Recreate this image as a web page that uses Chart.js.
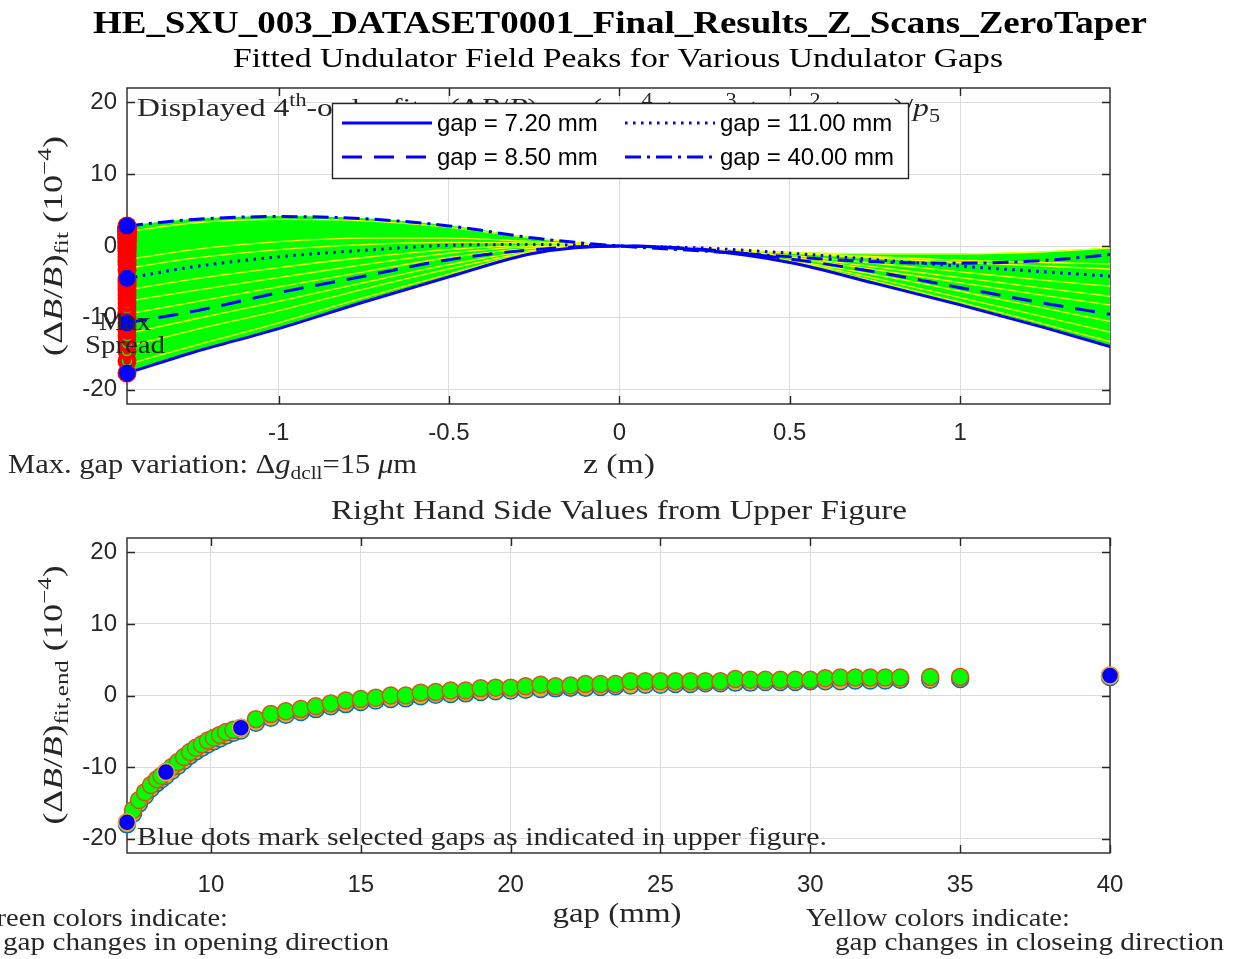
<!DOCTYPE html>
<html>
<head>
<meta charset="utf-8">
<script src="https://cdn.jsdelivr.net/npm/chart.js@4.4.1/dist/chart.umd.min.js"></script>
<style>
html, body { margin: 0; padding: 0; background: #fff; }
#wrap { position: relative; width: 1243px; height: 959px; overflow: hidden; }
canvas { position: absolute; left: 0; }
</style>
</head>
<body>
<div id="wrap">
  <canvas id="topChart" width="1243" height="490" style="top:0"></canvas>
  <canvas id="bottomChart" width="1243" height="469" style="top:490px"></canvas>
</div>
<script>
// ---- data ----
var zPts = [-1.445, -1.25, -1.0, -0.75, -0.5, -0.25, 0, 0.25, 0.5, 0.75, 1.0, 1.25, 1.44];
var zTicks = [-1, -0.5, 0, 0.5, 1];
var fieldTicks = [-20, -10, 0, 10, 20];
var gapTicks = [10, 15, 20, 25, 30, 35, 40];

// highlighted fits (blue) in the upper plot
var selGaps = [7.2, 8.5, 11.0, 40.0];
var fit072 = [-17.7, -14.8, -11.5, -7.8, -4.3, -1.0, 0.0, -0.6, -2.3, -5.2, -8.2, -11.4, -14.0];
var fit085 = [-10.7, -9.1, -6.5, -4.2, -1.9, -0.5, 0.0, -0.5, -1.8, -3.6, -5.8, -8.0, -9.5];
var fit110 = [-4.5, -2.9, -1.5, -0.6, 0.1, 0.2, 0.0, -0.3, -1.0, -1.9, -2.8, -3.6, -4.2];
var fit400 = [2.8, 3.7, 4.1, 3.8, 2.8, 1.1, 0.0, -0.7, -1.5, -2.2, -2.4, -2.0, -1.2];

// some of the closing-direction fits (yellow)
var closeGaps = [7.4, 7.8, 8.2, 9.0, 9.6, 10.3, 12.0, 13.5, 30.0];
var closeFits = [
  [-16.5, -13.9, -10.7, -7.2, -3.9, -0.9, 0.0, -0.6, -2.2, -4.9, -7.8, -10.9, -13.3],
  [-14.0, -11.7, -9.0, -6.0, -3.2, -0.8, 0.0, -0.6, -2.1, -4.5, -7.2, -9.9, -12.0],
  [-12.2, -10.2, -7.7, -5.1, -2.6, -0.6, 0.0, -0.5, -2.0, -4.0, -6.3, -8.7, -10.5],
  [-9.5, -7.8, -5.7, -3.6, -1.6, -0.3, 0.0, -0.5, -1.7, -3.3, -5.1, -6.9, -8.2],
  [-7.7, -6.2, -4.4, -2.6, -1.0, -0.1, 0.0, -0.4, -1.5, -2.9, -4.4, -5.9, -7.0],
  [-6.1, -4.6, -3.0, -1.6, -0.5, 0.1, 0.0, -0.4, -1.3, -2.4, -3.6, -4.8, -5.6],
  [-3.1, -1.7, -0.5, 0.2, 0.5, 0.4, 0.0, -0.4, -1.0, -1.7, -2.3, -2.8, -3.2],
  [-1.9, -0.5, 0.6, 1.1, 1.1, 0.6, 0.0, -0.4, -0.9, -1.5, -2.0, -2.3, -2.5],
  [2.0, 3.2, 3.7, 3.5, 2.6, 1.1, 0.0, -0.4, -0.9, -1.1, -1.1, -0.8, -0.3]
];

// end values vs gap (lower plot, also the left end of the upper plot)
var gaps = [7.2, 7.4, 7.6, 7.8, 8.0, 8.2, 8.35, 8.5, 8.7, 8.9, 9.1, 9.3, 9.5, 9.7, 9.9, 10.1, 10.3, 10.5, 10.75, 11.0,
  11.5, 12, 12.5, 13, 13.5, 14, 14.5, 15, 15.5, 16, 16.5, 17, 17.5, 18, 18.5, 19, 19.5, 20, 20.5, 21, 21.5, 22,
  22.5, 23, 23.5, 24, 24.5, 25, 25.5, 26, 26.5, 27, 27.5, 28, 28.5, 29, 29.5, 30, 30.5, 31, 31.5, 32, 32.5, 33,
  34, 35, 40];
var endOpen = [-17.7, -16.0, -14.6, -13.5, -12.5, -11.7, -11.2, -10.7, -10.0, -9.3, -8.6, -7.9, -7.3, -6.8, -6.3, -5.9, -5.5, -5.1, -4.8, -4.5,
  -3.3, -2.6, -2.2, -1.9, -1.5, -1.1, -0.7, -0.5, -0.3, 0.0, 0.0, 0.4, 0.5, 0.7, 0.7, 1.0, 1.1, 1.1, 1.3, 1.5, 1.3, 1.4,
  1.6, 1.6, 1.6, 2.0, 2.0, 2.0, 2.0, 2.0, 2.0, 2.0, 2.3, 2.2, 2.2, 2.2, 2.2, 2.2, 2.4, 2.5, 2.5, 2.5, 2.5, 2.5,
  2.6, 2.6, 2.8];
var endClose = [-18.0, -16.5, -15.1, -14.0, -13.0, -12.2, -11.7, -11.2, -10.5, -9.8, -9.1, -8.4, -7.8, -7.3, -6.8, -6.4, -6.0, -5.6, -5.2, -4.9,
  -3.8, -3.1, -2.7, -2.3, -1.9, -1.5, -1.2, -0.9, -0.7, -0.5, -0.4, -0.1, 0.1, 0.2, 0.3, 0.5, 0.6, 0.7, 0.8, 0.9, 1.0, 1.1,
  1.1, 1.2, 1.3, 1.4, 1.5, 1.5, 1.6, 1.6, 1.7, 1.7, 1.8, 1.8, 1.9, 1.9, 1.9, 2.0, 2.0, 2.0, 2.1, 2.1, 2.1, 2.2,
  2.2, 2.3, 2.6];

// ---- styling ----
var SERIF = '"Liberation Serif", "Times New Roman", serif';
var SANS = '"Liberation Sans", Arial, sans-serif';
var INK = '#262626';
var GRID = '#dcdcdc';
var BLUE = '#0000FF', GREEN = '#00FF00', YELLOW = '#FFFF00';
var selFits = [fit072, fit085, fit110, fit400];
var selDashes = [[], [20, 12], [2.5, 5.5], [16, 6, 3, 6]];

function pts(vals) {
  return zPts.map(function (z, i) { return { x: z, y: vals[i] }; });
}

function fontFor(kind, size) {
  var small = kind === 'sub' || kind === 'sup';
  var s = small ? size * 0.7 : size;
  var it = kind === 'i' ? 'italic ' : '';
  var b = kind === 'b' ? 'bold ' : '';
  return it + b + s + 'px ' + SERIF;
}

// draws a run of text pieces (normal, italic, sub, sup), optionally stretched to a width
function richText(ctx, segs, x, y, size, o) {
  o = o || {};
  ctx.save();
  var w = 0;
  var ws = segs.map(function (s) {
    ctx.font = fontFor(s[1] || 'n', size);
    var m = ctx.measureText(s[0]).width;
    w += m;
    return m;
  });
  ctx.translate(x, y);
  if (o.rotate) ctx.rotate(-Math.PI / 2);
  if (o.width) ctx.scale(o.width / w, 1);
  var cx = o.align === 'center' ? -w / 2 : (o.align === 'right' ? -w : 0);
  ctx.fillStyle = o.color || INK;
  ctx.textBaseline = 'alphabetic';
  ctx.textAlign = 'left';
  segs.forEach(function (s, i) {
    var k = s[1] || 'n';
    ctx.font = fontFor(k, size);
    var dy = k === 'sub' ? size * 0.22 : (k === 'sup' ? -size * 0.4 : 0);
    ctx.fillText(s[0], cx, dy);
    cx += ws[i];
  });
  ctx.restore();
}

var frame = {
  id: 'frame',
  beforeDatasetsDraw: function (chart) {
    var ctx = chart.ctx, a = chart.chartArea, sx = chart.scales.x, sy = chart.scales.y;
    ctx.save();
    ctx.strokeStyle = INK;
    ctx.lineWidth = 1.4;
    ctx.beginPath();
    sx.ticks.forEach(function (t) {
      var p = Math.round(sx.getPixelForValue(t.value)) + 0.5;
      ctx.moveTo(p, a.bottom); ctx.lineTo(p, a.bottom - 8);
      ctx.moveTo(p, a.top); ctx.lineTo(p, a.top + 8);
    });
    sy.ticks.forEach(function (t) {
      var p = Math.round(sy.getPixelForValue(t.value)) + 0.5;
      ctx.moveTo(a.left, p); ctx.lineTo(a.left + 8, p);
      ctx.moveTo(a.right, p); ctx.lineTo(a.right - 8, p);
    });
    ctx.stroke();
    ctx.strokeRect(a.left, a.top, a.right - a.left, a.bottom - a.top);
    ctx.restore();
  }
};

function drawLegend(chart) {
  var ctx = chart.ctx;
  var box = { x: 332, y: 103, w: 576, h: 75 };
  ctx.save();
  ctx.fillStyle = '#fff';
  ctx.fillRect(box.x, box.y, box.w, box.h);
  ctx.strokeStyle = INK;
  ctx.lineWidth = 1.4;
  ctx.strokeRect(box.x + 0.5, box.y + 0.5, box.w, box.h);
  chart.data.datasets.forEach(function (d) {
    if (d.legendSlot === undefined) return;
    var col = Math.floor(d.legendSlot / 2), row = d.legendSlot % 2;
    var lx = box.x + 10 + col * 283, ly = box.y + 20 + row * 34;
    ctx.strokeStyle = d.borderColor;
    ctx.lineWidth = d.borderWidth;
    ctx.setLineDash(d.borderDash || []);
    ctx.beginPath(); ctx.moveTo(lx, ly); ctx.lineTo(lx + 90, ly); ctx.stroke();
    ctx.setLineDash([]);
    ctx.fillStyle = '#000';
    ctx.font = '24px ' + SANS;
    ctx.textBaseline = 'middle';
    ctx.fillText(d.label, lx + 95, ly + 1);
  });
  ctx.restore();
}

function spreadMark() {
  var c = document.createElement('canvas');
  c.width = 20; c.height = 20;
  var g = c.getContext('2d');
  g.fillStyle = '#FF0000';
  g.beginPath(); g.arc(10, 10, 9.5, 0, 2 * Math.PI); g.fill();
  g.strokeStyle = GREEN; g.lineWidth = 1.5;
  g.beginPath(); g.arc(10, 10, 4.5, 0, 2 * Math.PI); g.stroke();
  return c;
}

var fitLabel = [['Displayed 4'], ['th', 'sup'], ['-order fits: (\u0394'], ['B', 'i'], ['/'], ['B', 'i'], [')'], ['fit', 'sub'],
  [' = ('], ['p', 'i'], ['1', 'sub'], ['z', 'i'], ['4', 'sup'], [' + '], ['p', 'i'], ['2', 'sub'], ['z', 'i'], ['3', 'sup'],
  [' + '], ['p', 'i'], ['3', 'sub'], ['z', 'i'], ['2', 'sup'], [' + '], ['p', 'i'], ['4', 'sub'], ['z', 'i'], [')/'], ['p', 'i'], ['5', 'sub']];
var yLabelTop = [['(\u0394'], ['B', 'i'], ['/'], ['B', 'i'], [')'], ['fit', 'sub'], [' (10'], ['\u22124', 'sup'], [')']];
var yLabelBottom = [['(\u0394'], ['B', 'i'], ['/'], ['B', 'i'], [')'], ['fit,end', 'sub'], [' (10'], ['\u22124', 'sup'], [')']];
var gapVar = [['Max. gap variation: \u0394'], ['g', 'i'], ['dcll', 'sub'], ['=15 '], ['\u03bc', 'i'], ['m']];

var upperText = {
  id: 'upperText',
  afterDatasetsDraw: function (chart) {
    var ctx = chart.ctx;
    var xl = chart.scales.x.getPixelForValue(zPts[0]);
    richText(ctx, [['Max']], xl - 2, 330, 26, { align: 'center', width: 52 });
    richText(ctx, [['Spread']], xl - 2, 353, 26, { align: 'center', width: 80 });
  },
  afterDraw: function (chart) {
    var ctx = chart.ctx;
    richText(ctx, [['HE_SXU_003_DATASET0001_Final_Results_Z_Scans_ZeroTaper', 'b']], 620, 33, 32, { align: 'center', width: 1054, color: '#000' });
    richText(ctx, [['Fitted Undulator Field Peaks for Various Undulator Gaps']], 618, 67, 28, { align: 'center', width: 770, color: '#000' });
    richText(ctx, fitLabel, 137, 116, 26, { width: 803 });
    drawLegend(chart);
    richText(ctx, yLabelTop, 62, 246, 27, { align: 'center', rotate: true, width: 220 });
    richText(ctx, [['z (m)']], 619, 473, 27, { align: 'center', width: 72 });
    richText(ctx, gapVar, 8, 473, 27, { width: 409 });
  }
};

var lowerText = {
  id: 'lowerText',
  afterDraw: function (chart) {
    var ctx = chart.ctx;
    richText(ctx, [['Right Hand Side Values from Upper Figure']], 619, 29, 27, { align: 'center', width: 576 });
    richText(ctx, [['Blue dots mark selected gaps as indicated in upper figure.']], 137, 355, 26, { width: 690 });
    richText(ctx, yLabelBottom, 62, 205, 27, { align: 'center', rotate: true, width: 259 });
    richText(ctx, [['gap (mm)']], 617, 432, 27, { align: 'center', width: 129 });
    richText(ctx, [['Green colors indicate:']], 228, 436, 26, { align: 'right', width: 252 });
    richText(ctx, [['gap changes in opening direction']], 389, 460, 26, { align: 'right', width: 386 });
    richText(ctx, [['Yellow colors indicate:']], 806, 436, 26, { width: 264 });
    richText(ctx, [['gap changes in closeing direction']], 835, 460, 26, { width: 389 });
  }
};

function axisX(min, max, tickVals, height, pad) {
  return {
    type: 'linear', min: min, max: max,
    afterBuildTicks: function (s) { s.ticks = tickVals.map(function (v) { return { value: v }; }); },
    afterFit: function (s) { s.height = height; },
    grid: { color: GRID, lineWidth: 1, drawTicks: false },
    border: { display: false },
    ticks: { font: { family: SANS, size: 24 }, color: INK, padding: pad, maxRotation: 0, autoSkip: false,
      callback: function (v) { return String(v); } }
  };
}
function axisY() {
  return {
    type: 'linear', min: -22, max: 22,
    afterBuildTicks: function (s) { s.ticks = fieldTicks.map(function (v) { return { value: v }; }); },
    afterFit: function (s) { s.width = 127; },
    grid: { color: GRID, lineWidth: 1, drawTicks: false },
    border: { display: false },
    ticks: { font: { family: SANS, size: 24 }, color: INK, padding: 10,
      callback: function (v) { return String(v); } }
  };
}

// ---- upper chart ----
var upperSets = [];
// green band of opening-direction fits, bounded below by the 7.2 mm fit
upperSets.push({ data: pts(fit072), showLine: true, borderColor: GREEN, borderWidth: 1, pointRadius: 0, fill: false, order: 5 });
upperSets.push({ data: pts(fit400), showLine: true, borderColor: GREEN, borderWidth: 1, pointRadius: 0, fill: 0, backgroundColor: GREEN, order: 5 });
upperSets.push({ data: pts(closeFits[closeFits.length - 1]), showLine: true, borderColor: GREEN, borderWidth: 1, pointRadius: 0, fill: 0, backgroundColor: GREEN, order: 5 });
closeFits.forEach(function (f, i) {
  upperSets.push({ label: 'closing ' + closeGaps[i] + ' mm', data: pts(f), showLine: true, borderColor: YELLOW,
    borderWidth: 1.3, pointRadius: 0, fill: false, order: 4 });
});
selFits.forEach(function (f, i) {
  upperSets.push({ label: 'gap = ' + selGaps[i].toFixed(2) + ' mm', legendSlot: i, data: pts(f), showLine: true,
    borderColor: BLUE, borderWidth: 3, borderDash: selDashes[i], borderCapStyle: 'butt', pointRadius: 0, fill: false, order: 2 });
});
upperSets.push({ data: gaps.map(function (g, i) { return { x: zPts[0], y: endOpen[i] }; }),
  pointStyle: spreadMark(), pointRadius: 10, showLine: false, clip: false, order: 1 });
upperSets.push({ data: selGaps.map(function (g) { return { x: zPts[0], y: endOpen[gaps.indexOf(g)] }; }),
  pointRadius: 8, pointBackgroundColor: BLUE, pointBorderColor: BLUE, pointBorderWidth: 1, showLine: false, clip: false, order: 0 });

new Chart(document.getElementById('topChart'), {
  type: 'scatter',
  data: { datasets: upperSets },
  options: {
    responsive: false, animation: false, devicePixelRatio: 1, events: [],
    layout: { padding: { top: 88, right: 133, left: 0, bottom: 0 } },
    elements: { line: { cubicInterpolationMode: 'monotone' } },
    plugins: { legend: { display: false }, tooltip: { enabled: false }, title: { display: false } },
    scales: { x: axisX(zPts[0], zPts[zPts.length - 1], zTicks, 86, 15), y: axisY() }
  },
  plugins: [frame, upperText]
});

// ---- lower chart ----
new Chart(document.getElementById('bottomChart'), {
  type: 'scatter',
  data: {
    datasets: [
      { label: 'selected', data: selGaps.map(function (g) { return { x: g, y: endOpen[gaps.indexOf(g)] }; }),
        pointRadius: 8.5, pointBackgroundColor: BLUE, pointBorderColor: '#EDB120', pointBorderWidth: 1.5, clip: false, order: 0 },
      { label: 'opening', data: gaps.map(function (g, i) { return { x: g, y: endOpen[i] }; }),
        pointRadius: 8.5, pointBackgroundColor: GREEN, pointBorderColor: '#D95319', pointBorderWidth: 1.5, clip: false, order: 1 },
      { label: 'closing', data: gaps.map(function (g, i) { return { x: g, y: endClose[i] }; }),
        pointRadius: 8.5, pointBackgroundColor: '#EDB120', pointBorderColor: '#0072BD', pointBorderWidth: 1.5, clip: false, order: 2 }
    ]
  },
  options: {
    responsive: false, animation: false, devicePixelRatio: 1, events: [],
    layout: { padding: { top: 48, right: 133, left: 0, bottom: 0 } },
    plugins: { legend: { display: false }, tooltip: { enabled: false }, title: { display: false } },
    scales: { x: axisX(7.2, 40, gapTicks, 106, 18), y: axisY() }
  },
  plugins: [frame, lowerText]
});
</script>
</body>
</html>
